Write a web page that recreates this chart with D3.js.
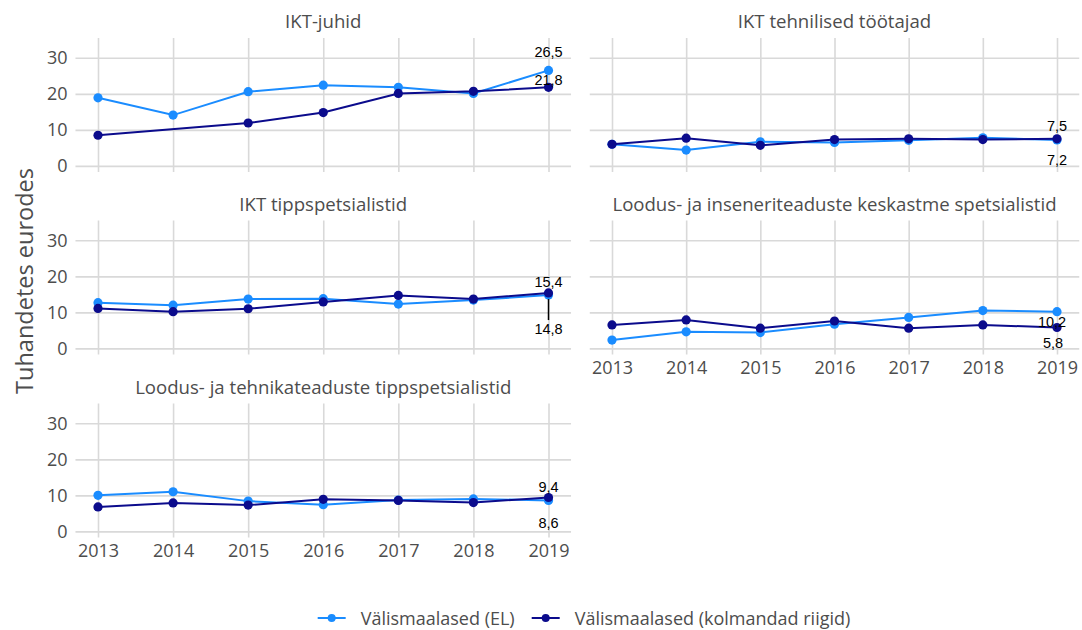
<!DOCTYPE html>
<html>
<head>
<meta charset="utf-8">
<script src="https://cdn.jsdelivr.net/npm/d3@7"></script>
<style>
  body { margin: 0; background: #fff; }
  svg { display: block; }
  text { font-family: 'Open Sans', sans-serif; }
</style>
</head>
<body>
<svg width="1082" height="630"></svg>
<script>
const years = [2013, 2014, 2015, 2016, 2017, 2018, 2019]
const panelTitles = [
  'IKT-juhid',
  'IKT tehnilised töötajad',
  'IKT tippspetsialistid',
  'Loodus- ja inseneriteaduste keskastme spetsialistid',
  'Loodus- ja tehnikateaduste tippspetsialistid'
]
const seriesNames = ['Välismaalased (EL)', 'Välismaalased (kolmandad riigid)']
// values in thousand euros, one row per panel
const euValues = [
  [18.9, 14.1, 20.6, 22.4, 21.8, 20.1, 26.5],
  [6.0, 4.4, 6.7, 6.5, 7.1, 7.8, 7.2],
  [12.7, 12.0, 13.7, 13.8, 12.3, 13.4, 14.8],
  [2.3, 4.6, 4.4, 6.7, 8.6, 10.5, 10.2],
  [10.0, 11.0, 8.4, 7.4, 8.7, 9.0, 8.6]
]
const thirdValues = [
  [8.5, null, 11.9, 14.8, 20.1, 20.7, 21.8],
  [6.0, 7.7, 5.7, 7.3, 7.5, 7.3, 7.5],
  [11.1, 10.2, 11.0, 12.9, 14.7, 13.7, 15.4],
  [6.5, 7.9, 5.6, 7.6, 5.6, 6.5, 5.8],
  [6.8, 7.9, 7.3, 8.9, 8.6, 8.0, 9.4]
]
const yTicks = [0, 10, 20, 30]
const yTitle = 'Tuhandetes eurodes'

// layout (label nudges in px: [EL, kolmandad])
const labelDy = [[-18.5, -7.5], [20, -13], [34, -11], [10, 16], [23, -11]]
const labelDx = [[0, 0], [0, 0], [0, 0], [-5, -4], [0, 0]]
const colors = ['#1a8cff', '#0b0b8c']
const colX = [[98, 548.5], [612, 1057]]
const rowTop = [38, 220.5, 403.5]
const panelH = 134

const svg = d3.select('svg')

const fmt = v => v.toFixed(1).replace('.', ',')

panelTitles.forEach((title, i) => {
  const col = i % 2
  const row = Math.floor(i / 2)
  const x = d3.scaleLinear().domain([2013, 2019]).range(colX[col])
  const x0 = x(2012.7)
  const x1 = x(2019.3)
  const w = x1 - x0
  const y = d3.scaleLinear().domain([-1.7, 35.5]).range([panelH, 0])

  const g = svg.append('g')
    .attr('transform', `translate(${x0}, ${rowTop[row]})`)
  const xs = v => x(v) - x0

  // gridlines + axes
  const yAxisG = g.append('g')
    .call(d3.axisLeft(y).tickValues(yTicks).tickSize(-w).tickPadding(8)
      .tickFormat(col === 0 ? d3.format('d') : () => ''))
  yAxisG.select('.domain').remove()

  const showX = (i === 3 || i === 4)
  const xAxisG = g.append('g')
    .attr('transform', `translate(0, ${panelH})`)
    .call(d3.axisBottom(d3.scaleLinear().domain(x.domain()).range([xs(2013), xs(2019)]))
      .tickValues(years).tickSize(panelH).tickPadding(9)
      .tickFormat(showX ? d3.format('d') : () => ''))
  xAxisG.select('.domain').remove()
  xAxisG.selectAll('.tick line').attr('y2', -panelH)
  xAxisG.selectAll('.tick text').attr('y', 7)

  g.selectAll('.tick line')
    .attr('stroke', '#d9d9d9')
    .attr('stroke-width', 1.6)
  g.selectAll('.tick text')
    .attr('fill', '#4d4d4d')
    .style('font-size', '18px')
    .style('font-family', "'Open Sans', sans-serif")

  // facet title
  svg.append('text')
    .attr('x', x0 + w / 2)
    .attr('y', rowTop[row] - 17.5)
    .attr('text-anchor', 'middle')
    .attr('dominant-baseline', 'central')
    .attr('fill', '#4d4d4d')
    .style('font-size', '18.6px')
    .text(title)

  const series = [euValues[i], thirdValues[i]]
  series.forEach((vals, s) => {
    const pts = years.map((yr, k) => ({ yr, v: vals[k] })).filter(d => d.v !== null)
    const line = d3.line().x(d => xs(d.yr)).y(d => y(d.v))
    g.append('path')
      .datum(pts)
      .attr('d', line)
      .attr('fill', 'none')
      .attr('stroke', colors[s])
      .attr('stroke-width', 2)
    g.selectAll(null)
      .data(pts)
      .enter()
      .append('circle')
      .attr('cx', d => xs(d.yr))
      .attr('cy', d => y(d.v))
      .attr('r', 4.6)
      .attr('fill', colors[s])
  })

  // end labels
  series.forEach((vals, s) => {
    const last = vals[vals.length - 1]
    const px = xs(2019)
    const py = y(last)
    const dy = labelDy[i][s]
    if (Math.abs(dy) > 30) {
      g.append('line')
        .attr('x1', px).attr('x2', px)
        .attr('y1', py + 4).attr('y2', py + dy - 9)
        .attr('stroke', '#000')
        .attr('stroke-width', 1.5)
    }
    g.append('text')
      .attr('x', px + labelDx[i][s])
      .attr('y', py + dy)
      .attr('text-anchor', 'middle')
      .attr('dominant-baseline', 'central')
      .style('font-family', "'Liberation Sans', Arial, sans-serif")
      .style('font-size', '14.5px')
      .attr('fill', '#000')
      .text(fmt(last))
  })
})

// y axis title
svg.append('text')
  .attr('transform', 'translate(24, 281) rotate(-90)')
  .attr('text-anchor', 'middle')
  .attr('dominant-baseline', 'central')
  .attr('fill', '#4d4d4d')
  .style('font-size', '23.5px')
  .text(yTitle)

// legend
const legend = svg.append('g').attr('transform', 'translate(0, 618)')
const items = legend.selectAll('g')
  .data(seriesNames)
  .enter()
  .append('g')
items.append('line')
  .attr('x1', 0).attr('x2', 28)
  .attr('stroke', (d, i) => colors[i])
  .attr('stroke-width', 2)
items.append('circle')
  .attr('cx', 14).attr('r', 4)
  .attr('fill', (d, i) => colors[i])
items.append('text')
  .attr('x', 43)
  .attr('dominant-baseline', 'central')
  .attr('fill', '#4d4d4d')
  .style('font-size', '18px')
  .text(d => d)
let offset = 0
const widths = []
items.each(function() {
  widths.push(this.getBBox().width)
})
const gap = 17
const total = d3.sum(widths) + gap * (widths.length - 1)
offset = 584 - total / 2
items.attr('transform', (d, i) => {
  const t = `translate(${offset}, 0)`
  offset += widths[i] + gap
  return t
})
</script>
</body>
</html>
